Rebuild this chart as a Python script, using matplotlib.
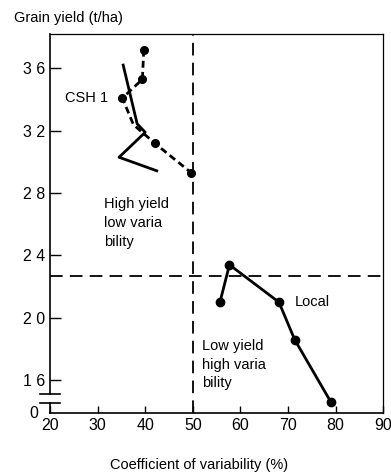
import matplotlib
matplotlib.use("Agg")
import matplotlib.pyplot as plt
import matplotlib.transforms as mtransforms

plt.rcParams['font.family'] = ['Liberation Sans', 'DejaVu Sans']

# CSH 1 solid line
csh_solid_x = [35.3, 38.3, 40.0, 34.5, 42.7]
csh_solid_y = [3.63, 3.245, 3.19, 3.03, 2.94]
# CSH 1 dashed line with dots
csh_dash_x = [39.7, 39.4, 35.2, 37.5, 42.0, 49.7]
csh_dash_y = [3.72, 3.53, 3.41, 3.24, 3.12, 2.93]
csh_dash_marker_idx = [0, 1, 2, 4, 5]
# Local
local_x = [55.7, 57.7, 68.1, 71.4, 79.0]
local_y = [2.10, 2.34, 2.10, 1.86, 1.46]

xticks = [20, 30, 40, 50, 60, 70, 80, 90]
yticks = [1.6, 2.0, 2.4, 2.8, 3.2, 3.6]
yticklabels = ["1 6", "2 0", "2 4", "2 8", "3 2", "3 6"]
ybottom = 1.39
ybottom_label = "0"
hline_y = 2.27
vline_x = 50
break_lo, break_hi = 1.453, 1.51

fig = plt.figure(figsize=(3.91, 4.74), dpi=100)
ax = fig.add_axes([0.128, 0.129, 0.852, 0.799])
ax.set_xlim(20, 90)
ax.set_ylim(ybottom, 3.82)

ax.plot(csh_solid_x, csh_solid_y, color='black', lw=2.0, solid_capstyle='butt')
ax.plot(csh_dash_x, csh_dash_y, color='black', lw=2.0, ls=(0, (2.5, 1.5)))
ax.plot([csh_dash_x[i] for i in csh_dash_marker_idx],
        [csh_dash_y[i] for i in csh_dash_marker_idx],
        'o', color='black', ms=5.5)
ax.plot(local_x, local_y, color='black', lw=2.0, marker='o', ms=6)

ax.axhline(hline_y, color='black', lw=1.3, ls=(0, (7, 4)))
ax.axvline(vline_x, color='black', lw=1.3, ls=(0, (7, 4)))

ax.set_xticks(xticks)
ax.set_xticklabels([str(v) for v in xticks], fontsize=11.5)
ax.set_yticks(yticks)
ax.set_yticklabels(yticklabels, fontsize=11.5)
ax.tick_params(direction='in', length=5, width=1.0)
ax.tick_params(axis='y', which='both', length=8)
for s in ax.spines.values():
    s.set_linewidth(1.2)
ax.spines['top'].set_linewidth(0.9)
ax.spines['right'].set_linewidth(0.9)

# axis break: gap in left spine plus two marks
ax.spines['left'].set_bounds(break_hi, 3.82)
trans = mtransforms.blended_transform_factory(ax.transAxes, ax.transData)
ax.plot([0, 0], [ybottom, break_lo], color='black', lw=1.2, transform=trans, clip_on=False)
for yb in [break_hi, break_lo]:
    ax.plot([-0.03, 0.03], [yb, yb], color='black', lw=1.2, transform=trans, clip_on=False)
ax.text(-0.035, ybottom - 0.005, ybottom_label, fontsize=11.5, ha='right', va='center', transform=trans)

ax.text(32.3, 3.41, "CSH 1", fontsize=10.5, ha='right', va='center')
ax.text(71.5, 2.10, "Local", fontsize=10.5, ha='left', va='center')
ax.text(31.3, 2.61, "High yield\nlow varia\nbility", fontsize=10.5, ha='left', va='center', linespacing=1.45)
ax.text(52.0, 1.70, "Low yield\nhigh varia\nbility", fontsize=10.5, ha='left', va='center', linespacing=1.45)

fig.text(0.036, 0.962, "Grain yield (t/ha)", fontsize=10.5, ha='left', va='center')
fig.text(0.51, 0.02, "Coefficient of variability (%)", fontsize=10.5, ha='center', va='center')

fig.savefig("out.png", dpi=100)
